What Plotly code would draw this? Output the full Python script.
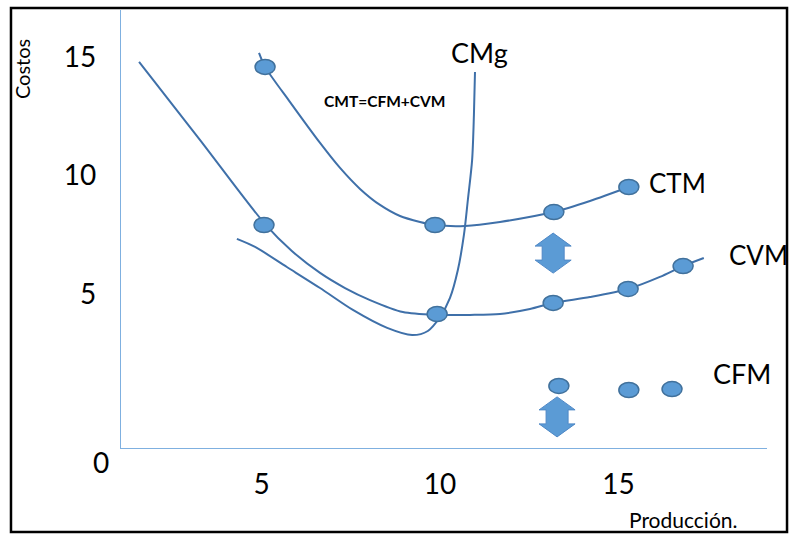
import plotly.graph_objects as go

# Schematic cost curves (units of output vs. cost)
ctm_x = [4.93, 5.10, 5.80, 6.64, 7.20, 7.76, 8.32, 8.88, 9.44, 9.86, 10.70, 11.68, 13.17, 14.20, 15.29]
ctm_y = [15.20, 14.61, 13.12, 11.39, 10.33, 9.44, 8.76, 8.29, 8.04, 7.91, 7.87, 8.04, 8.46, 8.93, 9.52]

cvm_x = [1.57, 3.28, 5.10, 5.85, 6.64, 7.34, 8.04, 8.96, 9.92, 10.84, 11.68, 12.52, 13.17, 14.20, 15.27, 16.16, 16.81, 17.39]
cvm_y = [14.82, 11.51, 7.95, 6.81, 5.88, 5.24, 4.73, 4.22, 4.10, 4.10, 4.14, 4.35, 4.61, 4.86, 5.20, 5.71, 6.17, 6.51]

cmg_x = [4.31, 4.82, 5.71, 6.64, 7.56, 8.52, 9.22, 9.66, 10.00, 10.28, 10.50, 10.67, 10.78, 10.90, 10.95, 10.98]
cmg_y = [7.32, 6.98, 6.13, 5.24, 4.31, 3.55, 3.25, 3.42, 4.01, 4.82, 6.00, 7.49, 8.97, 10.67, 12.57, 14.39]

# Highlighted points on each curve
ctm_pts_x = [5.10, 9.86, 13.19, 15.29]
ctm_pts_y = [14.61, 7.91, 8.46, 9.52]
cvm_pts_x = [5.07, 9.92, 13.17, 15.27, 16.81]
cvm_pts_y = [7.91, 4.14, 4.61, 5.20, 6.17]
cfm_pts_x = [13.33, 15.29, 16.50]
cfm_pts_y = [1.09, 0.92, 0.96]

# Double arrows marking the gaps CTM-CVM and CFM-axis
arrow_x = [13.17, 13.28]
arrow_y = [6.72, -0.22]

x_ticks = [5, 10, 15]
y_ticks = [5, 10, 15]

LINE = "#3f70a9"
DOT_FILL = "#5b9bd5"
DOT_EDGE = "#41719c"
AXIS = "#7fb0e0"
FONT = "Lato"

fig = go.Figure()
for xs, ys in [(ctm_x, ctm_y), (cvm_x, cvm_y), (cmg_x, cmg_y)]:
    fig.add_trace(go.Scatter(
        x=xs, y=ys, mode="lines",
        line=dict(color=LINE, width=2, shape="spline", smoothing=0.8),
        hoverinfo="skip", showlegend=False,
    ))

shapes = []
# Elliptical dots, fixed pixel size, anchored at data points
for xs, ys in [(ctm_pts_x, ctm_pts_y), (cvm_pts_x, cvm_pts_y), (cfm_pts_x, cfm_pts_y)]:
    for x, y in zip(xs, ys):
        shapes.append(dict(
            type="circle", xref="x", yref="y",
            xsizemode="pixel", ysizemode="pixel",
            xanchor=x, yanchor=y, x0=-10, x1=10, y0=-7.5, y1=7.5,
            fillcolor=DOT_FILL, line=dict(color=DOT_EDGE, width=1.5),
            layer="above",
        ))

# Block double arrow outline in pixels around its anchor
arrow_path = ("M 0,20 L 18,7 L 11,7 L 11,-7 L 18,-7 L 0,-20 "
              "L -18,-7 L -11,-7 L -11,7 L -18,7 Z")
for x, y in zip(arrow_x, arrow_y):
    shapes.append(dict(
        type="path", xref="x", yref="y",
        xsizemode="pixel", ysizemode="pixel",
        xanchor=x, yanchor=y, path=arrow_path,
        fillcolor=DOT_FILL, line=dict(color="#4f88c6", width=1),
        layer="above",
    ))

# Outer black frame
shapes.append(dict(
    type="rect", xref="paper", yref="paper",
    x0=-0.1703, x1=1.031, y0=-0.1918, y1=1.0046,
    line=dict(color="black", width=2.5), fillcolor="rgba(0,0,0,0)",
))

annotations = [
    dict(text="CMg", x=10.24, y=15.20, xanchor="left", yanchor="middle",
         font=dict(size=27)),
    dict(text="<b>CMT=CFM+CVM</b>", x=8.46, y=13.17, xanchor="center", yanchor="middle",
         font=dict(size=15.5)),
    dict(text="CTM", x=15.80, y=9.69, xanchor="left", yanchor="middle",
         font=dict(size=26)),
    dict(text="CVM", x=18.05, y=6.64, xanchor="left", yanchor="middle",
         font=dict(size=26)),
    dict(text="CFM", x=17.58, y=1.60, xanchor="left", yanchor="middle",
         font=dict(size=27)),
    dict(text="Costos", xref="paper", yref="paper", x=-0.1533, y=0.865,
         textangle=-90, xanchor="center", yanchor="middle", font=dict(size=20)),
    dict(text="Producción.", xref="paper", yref="paper", x=0.870, y=-0.163,
         xanchor="center", yanchor="middle", font=dict(size=21)),
    dict(text="0", xref="paper", yref="paper", x=-0.031, y=-0.032,
         xanchor="center", yanchor="middle", font=dict(size=28)),
]
for a in annotations:
    a.setdefault("xref", "x")
    a.setdefault("yref", "y")
    a["showarrow"] = False
    a["font"].update(family=FONT, color="black")

fig.update_layout(
    width=791, height=534,
    margin=dict(l=121, r=24, t=10, b=86),
    paper_bgcolor="white", plot_bgcolor="white",
    font=dict(family=FONT, color="black"),
    shapes=shapes, annotations=annotations,
    xaxis=dict(
        range=[1.064, 19.16], tickvals=x_ticks, ticktext=[str(v) for v in x_ticks],
        showgrid=False, zeroline=False, showline=True, linecolor=AXIS, linewidth=1.3,
        ticks="", tickfont=dict(size=28, family=FONT, color="black"),
        ticklabelstandoff=11, fixedrange=True,
    ),
    yaxis=dict(
        range=[-1.538, 17.02], tickvals=y_ticks, ticktext=[str(v) for v in y_ticks],
        showgrid=False, zeroline=False, showline=True, linecolor=AXIS, linewidth=1.3,
        ticks="", tickfont=dict(size=28, family=FONT, color="black"),
        ticklabelstandoff=18, fixedrange=True,
    ),
)

fig.write_html("out.html")
